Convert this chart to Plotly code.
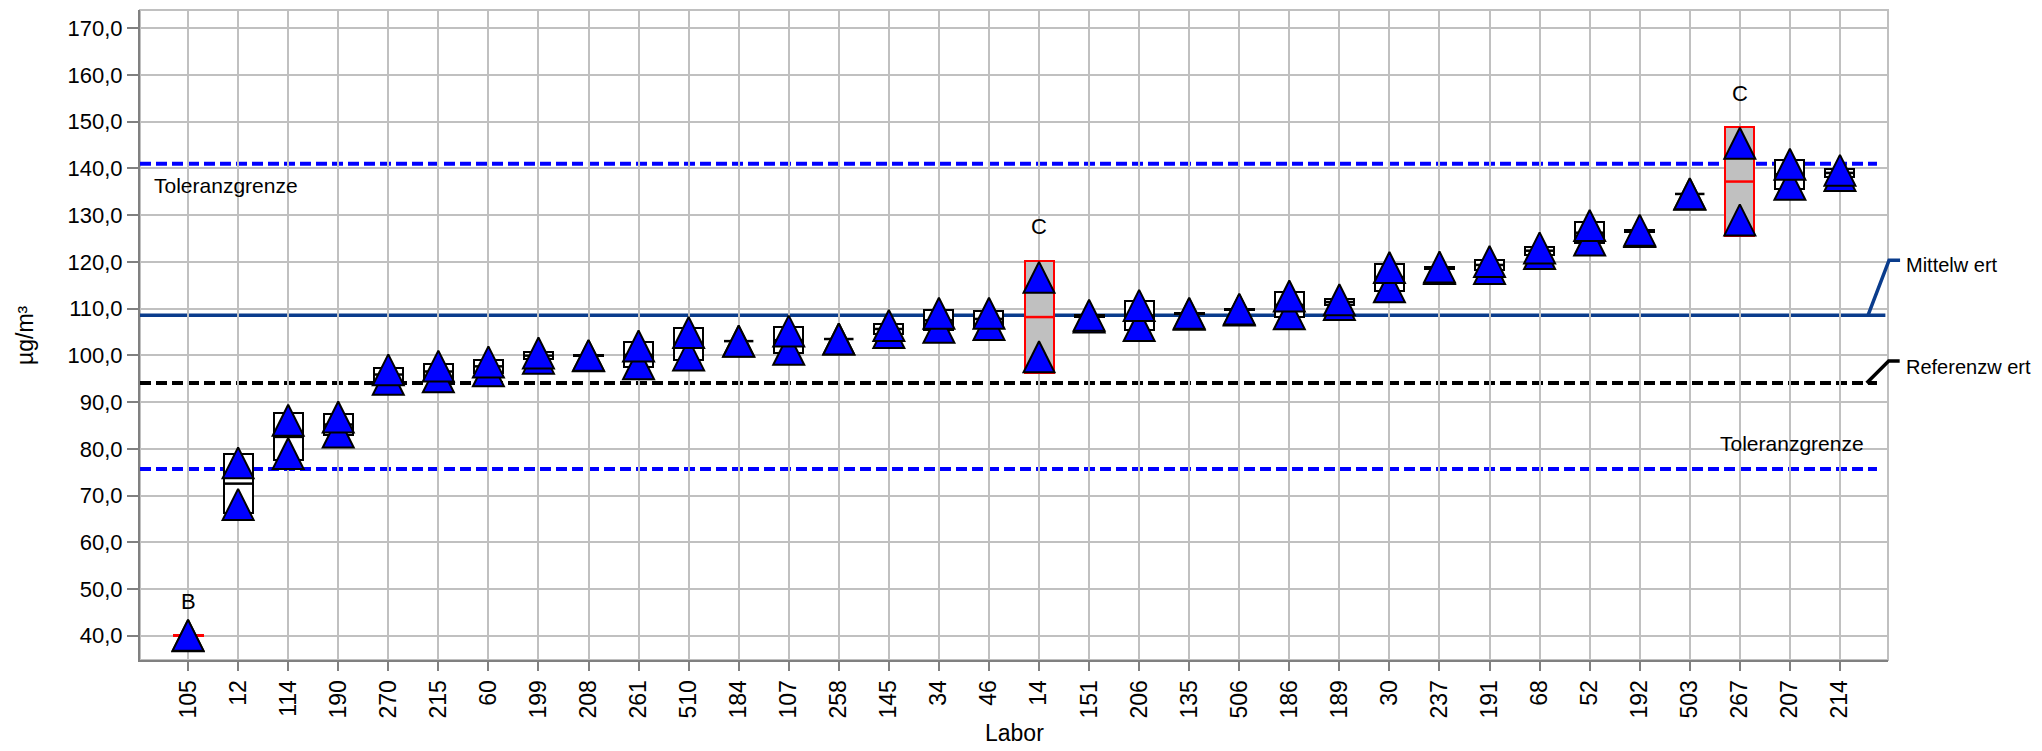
import numpy as np
import plotly.graph_objects as go

# Laboratories in plotting order and their two individual results (µg/m³)
labs = ["105", "12", "114", "190", "270", "215", "60", "199", "208", "261",
        "510", "184", "107", "258", "145", "34", "46", "14", "151", "206",
        "135", "506", "186", "189", "30", "237", "191", "68", "52", "192",
        "503", "267", "207", "214"]
result_1 = [40.1, 77.0, 86.1, 86.8, 96.9, 97.7, 98.6, 100.5, 100.0, 102.0,
            104.9, 103.0, 105.2, 103.5, 106.4, 109.0, 109.0, 116.7, 108.6, 110.7,
            109.0, 109.9, 112.7, 111.9, 118.8, 118.9, 120.1, 123.0, 127.8, 126.8,
            134.6, 145.4, 140.9, 139.6]
result_2 = [40.0, 68.1, 79.0, 83.6, 94.9, 95.4, 96.7, 99.4, 99.9, 98.2,
            100.1, 103.1, 101.3, 103.5, 104.9, 106.0, 106.6, 99.7, 108.2, 106.4,
            108.8, 109.7, 108.9, 110.9, 114.7, 118.6, 118.6, 121.8, 124.7, 126.5,
            134.5, 129.0, 136.6, 138.5]
# Assessment flags shown above a lab
flags = {"105": "B", "14": "C", "267": "C"}

mittelwert = 108.6
referenzwert = 94.1
toleranz_oben = 141.0
toleranz_unten = 75.7
y_ticks = [40, 50, 60, 70, 80, 90, 100, 110, 120, 130, 140, 150, 160, 170]

# ---------------------------------------------------------------- derived
x = np.arange(len(labs))
res = np.array([result_1, result_2])
mean = res.mean(axis=0)
sd = res.std(axis=0, ddof=1)          # box = mean ± standard deviation
flag = [flags.get(l, "") for l in labs]

W, H = 2042, 751
M = dict(l=140, r=154, t=10, b=91)
Y_RANGE = [34.8, 173.92]
X_RANGE = [-0.96, 33.96]
TRI = 31                               # triangle marker size (px)
px_per_unit = (H - M["t"] - M["b"]) / (Y_RANGE[1] - Y_RANGE[0])
half_tri = (TRI / 2) / px_per_unit     # arrow markers hang from their apex

FONT = "Liberation Sans, Arial, sans-serif"
GRID = "#c0c0c0"
AXIS = "#808080"
MEAN_BLUE = "#0a3c8c"

box_fill = ["#c0c0c0" if f == "C" else "white" for f in flag]
box_edge = ["red" if f else "black" for f in flag]
dash_col = ["red" if f else "black" for f in flag]

fig = go.Figure()

# mean ± SD boxes
fig.add_trace(go.Bar(
    x=x, y=2 * sd, base=mean - sd, width=0.58,
    marker=dict(color=box_fill, line=dict(color=box_edge, width=2)),
    hoverinfo="skip", showlegend=False))

# lab mean (line-ew is 1.4 × size wide)
fig.add_trace(go.Scatter(
    x=x, y=mean, mode="markers",
    marker=dict(symbol="line-ew", size=21, line=dict(color=dash_col, width=2.5)),
    hoverinfo="skip", showlegend=False))

# individual results (on an overlay axis so each triangle is centred on its value)
fig.add_trace(go.Scatter(
    x=np.concatenate([x, x]), y=np.concatenate([result_2, result_1]),
    mode="markers", yaxis="y2",
    marker=dict(symbol="arrow-up", size=TRI, color="#0000ff",
                line=dict(color="black", width=2)),
    showlegend=False))

# flag letters above the boxes
for xi, f, top in zip(x, flag, mean + sd):
    if f:
        fig.add_annotation(x=xi, y=top, text=f, showarrow=False, yshift=34,
                           font=dict(size=22, color="black", family=FONT))

# reference lines
shapes = [
    dict(type="rect", xref="paper", yref="paper", x0=0, x1=1, y0=0, y1=1,
         line=dict(color=GRID, width=2), layer="below"),
    dict(type="line", xref="paper", yref="y", x0=0, x1=0.9937,
         y0=toleranz_oben, y1=toleranz_oben,
         line=dict(color="#0000ff", width=4, dash="11px,5px"), layer="between"),
    dict(type="line", xref="paper", yref="y", x0=0, x1=0.9937,
         y0=toleranz_unten, y1=toleranz_unten,
         line=dict(color="#0000ff", width=4, dash="11px,5px"), layer="between"),
    dict(type="line", xref="paper", yref="y", x0=0, x1=0.9985,
         y0=mittelwert, y1=mittelwert,
         line=dict(color=MEAN_BLUE, width=3.5), layer="between"),
    dict(type="line", xref="paper", yref="y", x0=0, x1=0.9937,
         y0=referenzwert, y1=referenzwert,
         line=dict(color="black", width=4, dash="11px,5px"), layer="between"),
    # leader lines to the right-hand labels
    dict(type="path", xref="paper", yref="y", xsizemode="pixel", ysizemode="pixel",
         xanchor=0.9886, yanchor=mittelwert, path="M0,0 L21,55 L32,55",
         line=dict(color=MEAN_BLUE, width=3.5), layer="above"),
    dict(type="path", xref="paper", yref="y", xsizemode="pixel", ysizemode="pixel",
         xanchor=0.9878, yanchor=referenzwert, path="M0,0 L22,22 L33,22",
         line=dict(color="black", width=3.5), layer="above"),
]
fig.update_layout(shapes=shapes)

lbl = dict(showarrow=False, font=dict(size=20, color="black", family=FONT))
tol = dict(showarrow=False, font=dict(size=21, color="black", family=FONT))
fig.add_annotation(x=1.0092, xref="paper", y=mittelwert, yref="y", yshift=50,
                   text="Mittelw ert", xanchor="left", yanchor="middle", **lbl)
fig.add_annotation(x=1.0092, xref="paper", y=referenzwert, yref="y", yshift=16,
                   text="Referenzw ert", xanchor="left", yanchor="middle", **lbl)
fig.add_annotation(x=0.0069, xref="paper", y=toleranz_oben, yref="y", yshift=-22,
                   text="Toleranzgrenze", xanchor="left", yanchor="middle", **tol)
fig.add_annotation(x=0.9877, xref="paper", y=toleranz_unten, yref="y", yshift=25,
                   text="Toleranzgrenze", xanchor="right", yanchor="middle", **tol)

# axis titles
fig.add_annotation(x=0.5, xref="paper", y=-0.112, yref="paper", text="Labor",
                   showarrow=False, xanchor="center", yanchor="middle",
                   font=dict(size=23, color="black", family=FONT))
fig.add_annotation(x=-0.0658, xref="paper", y=0.5, yref="paper", text="µg/m³",
                   textangle=-90, showarrow=False, xanchor="center", yanchor="middle",
                   font=dict(size=23, color="black", family=FONT))

fig.update_layout(
    width=W, height=H, margin=M,
    paper_bgcolor="white", plot_bgcolor="white",
    separators=",.",
    font=dict(family=FONT, color="black"),
    xaxis=dict(range=X_RANGE, tickmode="array", tickvals=x, ticktext=labs,
               tickangle=-90, ticks="outside", ticklen=9, tickwidth=2,
               tickcolor=AXIS, showgrid=True, gridcolor=GRID, gridwidth=2,
               showline=True, linecolor=AXIS, linewidth=2, zeroline=False,
               tickfont=dict(size=23, color="black", family=FONT)),
    yaxis=dict(range=Y_RANGE, tickmode="array", tickvals=y_ticks, tickformat=".1f",
               ticks="outside", ticklen=11, tickwidth=2, tickcolor=AXIS,
               showgrid=True, gridcolor=GRID, gridwidth=2,
               showline=True, linecolor=AXIS, linewidth=2, zeroline=False,
               tickfont=dict(size=22, color="black", family=FONT)),
    yaxis2=dict(overlaying="y", range=[Y_RANGE[0] - half_tri, Y_RANGE[1] - half_tri],
                visible=False),
    bargap=0,
)

fig.write_html("out.html")
